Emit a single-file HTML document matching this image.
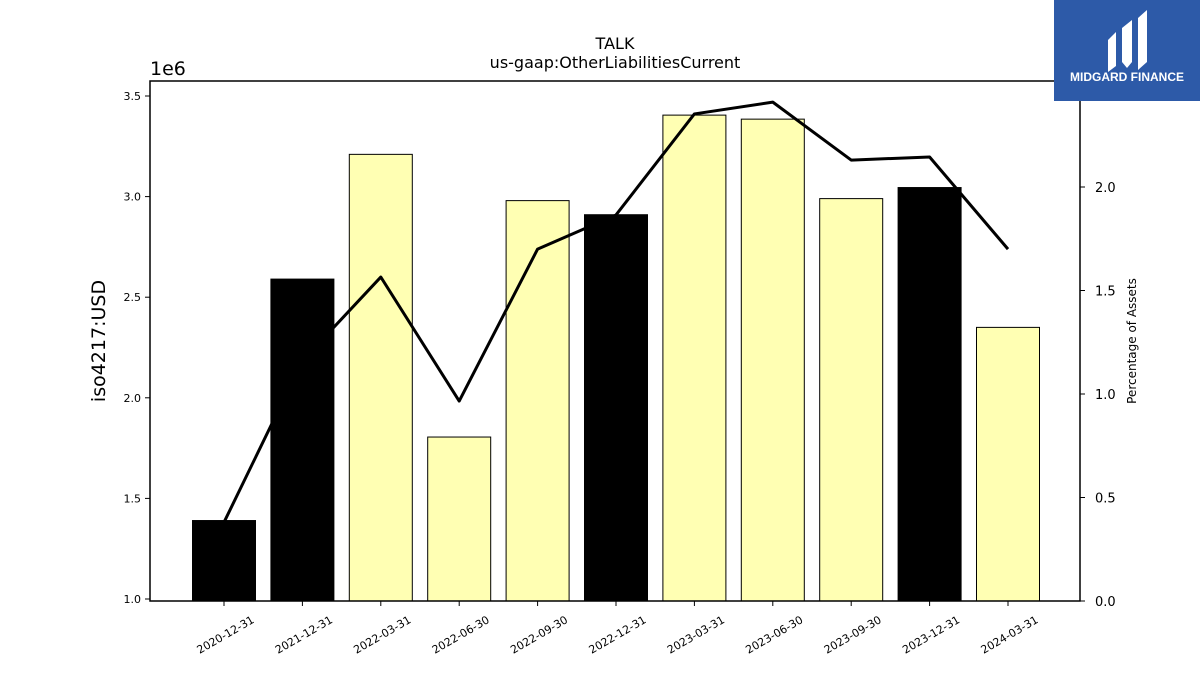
<!DOCTYPE html>
<html><head><meta charset="utf-8"><style>
body{margin:0;background:#fff;width:1200px;height:675px;overflow:hidden;font-family:"Liberation Sans","DejaVu Sans",sans-serif}
</style></head><body>
<svg id="chart" width="1200" height="675" xmlns="http://www.w3.org/2000/svg" font-family="DejaVu Sans, Liberation Sans, sans-serif">
<text x="615" y="49" text-anchor="middle" font-size="16">TALK</text>
<text x="615" y="68" text-anchor="middle" font-size="16">us-gaap:OtherLiabilitiesCurrent</text>
<text x="150" y="75" font-size="19">1e6</text>
<text transform="translate(105,341) rotate(-90)" text-anchor="middle" font-size="19">iso4217:USD</text>
<text transform="translate(1136,341) rotate(-90)" text-anchor="middle" font-size="12">Percentage of Assets</text>
<g id="bars"></g><g id="line"></g><g id="axes"></g>
<g>
<rect x="1054" y="0" width="146" height="101" fill="#2d5aa8"/>
<path d="M1108 40 L1116 32 L1116 66 L1108 72 Z M1122 28 L1132 20 L1132 62 L1127 68 L1122 62 Z M1138 18 L1147 10 L1147 62 L1138 70 Z" fill="#fff"/>
<text x="1127" y="81" text-anchor="middle" font-size="12" font-weight="bold" fill="#fff" font-family="Liberation Sans, sans-serif">MIDGARD FINANCE</text>
</g>
</svg>
<script>
const categories=["2020-12-31","2021-12-31","2022-03-31","2022-06-30","2022-09-30","2022-12-31","2023-03-31","2023-06-30","2023-09-30","2023-12-31","2024-03-31"];
const barValues=[1.39,2.59,3.21,1.805,2.98,2.91,3.405,3.385,2.99,3.045,2.35];
const pctValues=[0.38,1.16,1.565,0.966,1.70,1.865,2.353,2.41,2.13,2.145,1.70];
const leftTicks=[1.0,1.5,2.0,2.5,3.0,3.5];
const rightTicks=[0.0,0.5,1.0,1.5,2.0];
const NS="http://www.w3.org/2000/svg";
const L=150,R=1080,T=81,B=601;
const yL=v=>599-(v-1.0)*201.2;
const yR=v=>601-v*207;
const step=78.4,x0=224;
const xC=i=>x0+i*step;
function mk(tag,attrs,parent){const e=document.createElementNS(NS,tag);for(const k in attrs)e.setAttribute(k,attrs[k]);parent.appendChild(e);return e;}
const gb=document.getElementById('bars'),gl=document.getElementById('line'),ga=document.getElementById('axes');
barValues.forEach((v,i)=>{
 const annual=categories[i].endsWith('12-31');
 const r=mk('rect',{x:xC(i)-31.5,y:yL(v),width:63,height:B-yL(v),fill:annual?'#000':'#ffffb3',stroke:'#000','stroke-width':1},gb);
 
 
});
const pl=mk('polyline',{points:pctValues.map((v,i)=>xC(i)+','+yR(v)).join(' '),fill:'none',stroke:'#000','stroke-width':3,'stroke-linejoin':'round'},gl);


const fr=mk('rect',{x:L,y:T,width:R-L,height:B-T,fill:'none',stroke:'#000','stroke-width':1.5},ga);


leftTicks.forEach(t=>{const y=yL(t);mk('line',{x1:L-5,x2:L,y1:y,y2:y,stroke:'#000'},ga);
 const tx=mk('text',{x:L-9,y:y+4,'text-anchor':'end','font-size':11},ga);tx.textContent=t.toFixed(1);
 
 });
rightTicks.forEach(t=>{const y=yR(t);mk('line',{x1:R,x2:R+5,y1:y,y2:y,stroke:'#000'},ga);
 const tx=mk('text',{x:R+15,y:y+5,'font-size':13},ga);tx.textContent=t.toFixed(1);
 
 });
categories.forEach((c,i)=>{const x=xC(i);mk('line',{x1:x,x2:x,y1:B,y2:B+5,stroke:'#000'},ga);
 const tx=mk('text',{transform:`translate(${x+31},${622}) rotate(-30)`,'text-anchor':'end','font-size':11},ga);tx.textContent=c;
 
 });
</script>
</body></html>
